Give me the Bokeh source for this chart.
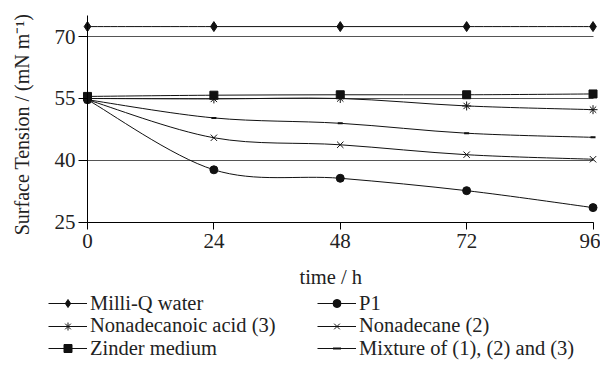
import numpy as np
from bokeh.plotting import figure
from bokeh.models import Range1d, FixedTicker, Legend, LegendItem, ColumnDataSource, Label
from bokeh.embed import file_html
from bokeh.resources import INLINE

# ---- data ----
time_h = [0, 24, 48, 72, 96]
milli_q = [72.4, 72.4, 72.4, 72.4, 72.4]
p1 = [54.7, 37.75, 35.7, 32.7, 28.6]
nonadecanoic = [55.0, 54.9, 55.0, 53.2, 52.3]
nonadecane = [54.7, 45.5, 43.8, 41.4, 40.3]
zinder = [55.5, 55.8, 55.9, 55.9, 56.1]
mixture = [54.7, 50.3, 49.0, 46.6, 45.6]

x_ticks = [0, 24, 48, 72, 96]
y_ticks = [25, 40, 55, 70]

FONT = "Liberation Serif"
W, H = 600, 366


def smooth_source(xs, ys):
    """Catmull-Rom style cubic Bezier control points for a smoothed line."""
    P = np.column_stack([xs, ys]).astype(float)
    n = len(P)
    d = dict(x0=[], y0=[], x1=[], y1=[], cx0=[], cy0=[], cx1=[], cy1=[])
    for i in range(n - 1):
        pa = P[i - 1] if i > 0 else P[i]
        pd = P[i + 2] if i + 2 < n else P[i + 1]
        c0 = P[i] + (P[i + 1] - pa) / 6.0
        c1 = P[i + 1] - (pd - P[i]) / 6.0
        d["x0"].append(P[i][0]); d["y0"].append(P[i][1])
        d["x1"].append(P[i + 1][0]); d["y1"].append(P[i + 1][1])
        d["cx0"].append(c0[0]); d["cy0"].append(c0[1])
        d["cx1"].append(c1[0]); d["cy1"].append(c1[1])
    return ColumnDataSource(d)


# whole canvas is the plot frame; axes are placed at fixed data locations
p = figure(width=W, height=H,
           x_range=Range1d(-16.52, 97.42), y_range=Range1d(-9.84, 78.71),
           output_backend="svg", toolbar_location=None,
           min_border_left=0, min_border_right=0,
           min_border_top=0, min_border_bottom=0)
p.outline_line_color = None
p.background_fill_color = "white"
p.border_fill_color = "white"

p.xaxis.ticker = FixedTicker(ticks=x_ticks)
p.yaxis.ticker = FixedTicker(ticks=y_ticks)
p.xaxis.bounds = (0, 96)
p.yaxis.bounds = (25, 75)
p.xaxis.fixed_location = 25
p.yaxis.fixed_location = 0
for ax in (p.xaxis, p.yaxis):
    ax.axis_line_color = "black"
    ax.axis_line_width = 1
    ax.major_tick_line_color = "black"
    ax.major_tick_in = 0
    ax.minor_tick_line_color = None
    ax.major_label_text_font = FONT
    ax.major_label_text_font_size = "21px"
    ax.major_label_text_color = "#222"
p.xaxis.major_tick_out = 7
p.yaxis.major_tick_out = 9
p.xaxis.major_label_standoff = 5
p.yaxis.major_label_standoff = 3

p.xgrid.grid_line_color = None
p.ygrid.grid_line_color = "#555"
p.ygrid.grid_line_width = 1
p.ygrid.cross_bounds = (0, 96)

# axis titles
p.add_layout(Label(x=46.2, y=11.8, text="time / h", text_font=FONT,
                   text_font_size="20.5px", text_color="#222",
                   text_align="center", text_baseline="alphabetic"))
p.add_layout(Label(x=-12.5, y=48.7, text="Surface Tension / (mN m\u207b\u00b9)",
                   angle=np.pi / 2, text_font=FONT, text_font_size="20px",
                   text_color="#222", text_align="center", text_baseline="middle"))

series = [
    ("Milli-Q water", milli_q, dict(marker="diamond", size=10)),
    ("P1", p1, dict(marker="circle", size=8)),
    ("Nonadecanoic acid (3)", nonadecanoic, dict(marker="asterisk", size=9, line_width=1)),
    ("Nonadecane (2)", nonadecane, dict(marker="x", size=9, line_width=1)),
    ("Zinder medium", zinder, dict(marker="square", size=8)),
    ("Mixture of (1), (2) and (3)", mixture, dict(marker="dash", size=5, line_width=2)),
]

items = []
for name, ys, mk in series:
    src = smooth_source(time_h, ys)
    br = p.bezier(x0="x0", y0="y0", x1="x1", y1="y1", cx0="cx0", cy0="cy0",
                  cx1="cx1", cy1="cy1", source=src, line_color="#111", line_width=1)
    sr = p.scatter(time_h, ys, color="#111", **mk)
    items.append(LegendItem(label=name, renderers=[br, sr]))

# legend laid out as two columns x three rows (one small legend per entry)
col_x = [48, 317]
row_center = [303, 325.5, 348]
ITEM_H = 23.5
for k, it in enumerate(items):
    row, col = k // 2, k % 2
    vy = H - row_center[row] - ITEM_H / 2
    lg = Legend(items=[it], location=(col_x[col], vy), orientation="vertical",
                label_text_font=FONT, label_text_font_size="20.5px",
                label_text_color="#222",
                glyph_width=39, glyph_height=20, label_height=20,
                label_standoff=3, spacing=0, padding=0, margin=0,
                border_line_color=None, background_fill_alpha=0)
    p.add_layout(lg, "center")

open("out.html", "w").write(file_html(p, INLINE))
